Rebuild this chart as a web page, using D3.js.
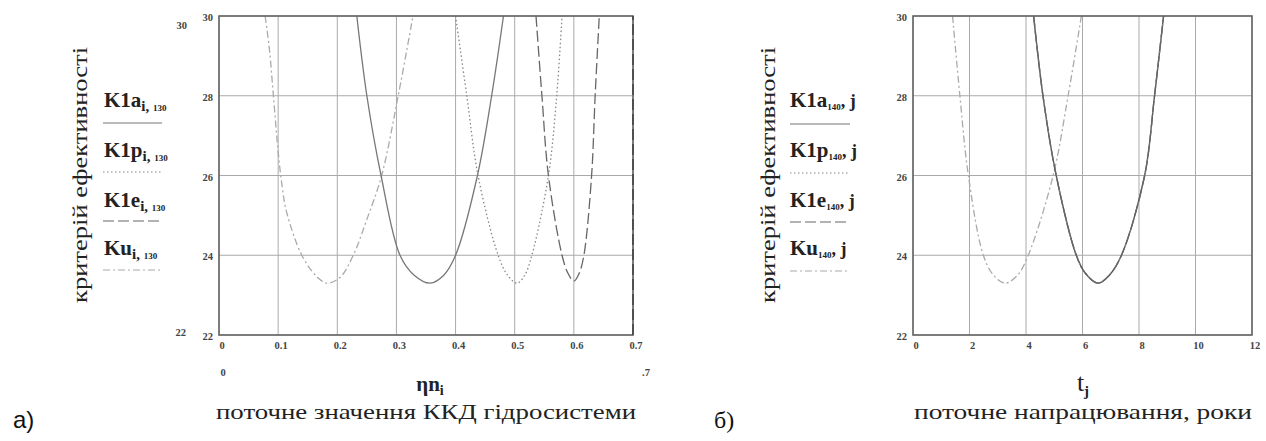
<!DOCTYPE html>
<html>
<head>
<meta charset="utf-8">
<script src="https://cdn.jsdelivr.net/npm/d3@7"></script>
<style>
  body { margin: 0; background: #fff; }
  svg { display: block; }
  text { font-family: "Liberation Serif", "DejaVu Serif", "Times New Roman", serif; }
  .tick-lbl { font-size: 10.5px; font-weight: bold; fill: #444; }
  .ser { fill: #222; }
</style>
</head>
<body>
<svg width="1266" height="441"></svg>
<script>
// ---- data ----
// panel a) : x = current efficiency of the hydraulic system
var etaTicks = [0, 0.1, 0.2, 0.3, 0.4, 0.5, 0.6, 0.7];
var kTicks = [22, 24, 26, 28, 30];

var etaK1a = [0.233, 0.25, 0.274, 0.306, 0.33, 0.357, 0.38, 0.40, 0.437, 0.461, 0.481];
var valK1a = [30, 28, 26, 24, 23.5, 23.3, 23.5, 24, 26, 28, 30];

var etaK1p = [0.40, 0.419, 0.438, 0.472, 0.488, 0.504, 0.517, 0.529, 0.557, 0.571, 0.58];
var valK1p = [30, 28, 26, 24, 23.5, 23.3, 23.5, 24, 26, 28, 30];

var etaK1e = [0.536, 0.546, 0.557, 0.58, 0.59, 0.60, 0.609, 0.617, 0.63, 0.636, 0.643];
var valK1e = [30, 28, 26, 24, 23.55, 23.35, 23.55, 24, 26, 28, 30];

var etaKu = [0.078, 0.085, 0.092, 0.1, 0.107, 0.114, 0.14, 0.165, 0.182, 0.205, 0.227, 0.25, 0.275, 0.303, 0.328];
var valKu = [30, 29.2, 28, 26.6, 25.7, 25.1, 24, 23.47, 23.3, 23.45, 24, 24.9, 26, 28, 30];

// panel б) : x = operating time, years
var tTicks = [0, 2, 4, 6, 8, 10, 12];

var tK1 = [4.27, 4.6, 5.07, 5.78, 6.1, 6.55, 6.95, 7.38, 8.2, 8.55, 8.87];
var valK1 = [30, 28, 26, 24, 23.55, 23.3, 23.5, 24, 26, 28, 30];

var tKu = [1.4, 1.66, 1.96, 2.49, 2.85, 3.26, 3.7, 4.08, 4.96, 5.49, 5.96];
var valKuT = [30, 28, 26, 24, 23.5, 23.3, 23.5, 24, 26, 28, 30];

var yTitle = "критерій  ефективності";

var svg = d3.select("svg");

function zip(xs, ys) {
  return xs.map(function(v, i) { return { x: v, y: ys[i] }; });
}

var styles = {
  a: { stroke: "#777", dash: null, w: 1.3 },
  p: { stroke: "#888", dash: "1.5,2.5", w: 1.3 },
  e: { stroke: "#666", dash: "11,4", w: 1.3 },
  u: { stroke: "#aaa", dash: "7,3,2,3", w: 1.3 }
};

function panel(id, xDomain, xRange, xt, series) {
  var x = d3.scaleLinear().domain(xDomain).range(xRange),
    y = d3.scaleLinear().domain([22, 30]).range([335, 16]);

  var g = svg.append("g");

  g.append("clipPath").attr("id", "clip" + id)
    .append("rect")
    .attr("x", xRange[0]).attr("y", 16)
    .attr("width", xRange[1] - xRange[0]).attr("height", 319);

  // grid
  g.selectAll("line.vg").data(xt).enter().append("line")
    .attr("x1", d => x(d)).attr("x2", d => x(d))
    .attr("y1", y(22)).attr("y2", y(30))
    .attr("stroke", "#aaa").attr("stroke-width", 1);
  g.selectAll("line.hg").data(kTicks).enter().append("line")
    .attr("x1", xRange[0]).attr("x2", xRange[1])
    .attr("y1", d => y(d)).attr("y2", d => y(d))
    .attr("stroke", "#aaa").attr("stroke-width", 1);

  var line = d3.line()
    .curve(d3.curveCatmullRom)
    .x(function(d) { return x(d.x); })
    .y(function(d) { return y(d.y); });

  g.append("g").attr("clip-path", "url(#clip" + id + ")")
    .selectAll("path").data(series).enter().append("path")
    .attr("d", d => line(d.pts))
    .attr("fill", "none")
    .attr("stroke", d => d.st.stroke)
    .attr("stroke-width", d => d.st.w)
    .attr("stroke-dasharray", d => d.st.dash);

  // frame
  g.append("rect")
    .attr("x", xRange[0]).attr("y", 16)
    .attr("width", xRange[1] - xRange[0]).attr("height", 319)
    .attr("fill", "none").attr("stroke", "#666").attr("stroke-width", 1.6);

  g.selectAll("text.xl").data(xt).enter().append("text")
    .attr("class", "tick-lbl")
    .attr("x", d => x(d) + 3).attr("y", 349)
    .attr("text-anchor", "middle")
    .text(d => d);
  g.selectAll("text.yl").data(kTicks).enter().append("text")
    .attr("class", "tick-lbl")
    .attr("x", xRange[0] - 6).attr("y", d => y(d) + 5)
    .attr("text-anchor", "end")
    .text(d => d);

  return { x: x, y: y, g: g };
}

var pa = panel("a", [0, 0.7], [219, 633], etaTicks, [
  { pts: zip(etaKu, valKu), st: styles.u },
  { pts: zip(etaK1a, valK1a), st: styles.a },
  { pts: zip(etaK1p, valK1p), st: styles.p },
  { pts: zip(etaK1e, valK1e), st: styles.e }
]);

// dashed right edge of panel a)
pa.g.append("line")
  .attr("x1", pa.x(0.7)).attr("x2", pa.x(0.7))
  .attr("y1", pa.y(22)).attr("y2", pa.y(30))
  .attr("stroke", "#333").attr("stroke-width", 1.2)
  .attr("stroke-dasharray", "11,4");

// extra range labels of panel a)
pa.g.append("text").attr("class", "tick-lbl").attr("x", 187).attr("y", 29).attr("text-anchor", "end").text(kTicks[4]);
pa.g.append("text").attr("class", "tick-lbl").attr("x", 186).attr("y", 336).attr("text-anchor", "end").text(kTicks[0]);
pa.g.append("text").attr("class", "tick-lbl").attr("x", pa.x(0) + 4).attr("y", 376).attr("text-anchor", "middle").text("0");
pa.g.append("text").attr("class", "tick-lbl").attr("x", pa.x(0.7) + 13).attr("y", 376).attr("text-anchor", "middle").text(".7");

var pb = panel("b", [0, 12], [913, 1252], tTicks, [
  { pts: zip(tKu, valKuT), st: styles.u },
  { pts: zip(tK1, valK1), st: { stroke: "#555", dash: null, w: 1.4 } },
  { pts: zip(tK1, valK1), st: styles.p },
  { pts: zip(tK1, valK1), st: styles.e }
]);

// y titles
[80, 768].forEach(function(cx) {
  svg.append("text").attr("class", "ser")
    .attr("transform", "translate(" + (cx + 7) + ",175) rotate(-90)")
    .attr("text-anchor", "middle")
    .attr("textLength", 256).attr("lengthAdjust", "spacingAndGlyphs")
    .style("font-size", "21px")
    .text(yTitle);
});

// legends
var legA = [
  { n: "K1a", st: styles.a }, { n: "K1p", st: styles.p },
  { n: "K1e", st: styles.e }, { n: "Ku", st: styles.u }
];
var legBase = [107, 157, 207, 255];
var legLine = [123, 172, 221, 270];

legA.forEach(function(d, i) {
  var t = svg.append("text").attr("class", "ser")
    .attr("x", 104).attr("y", legBase[i]);
  t.append("tspan").style("font-size", "21px").style("font-weight", "bold").text(d.n);
  t.append("tspan").attr("dy", 4).style("font-size", "15px").style("font-weight", "bold").text("i");
  t.append("tspan").style("font-size", "15px").style("font-weight", "bold").text(", ");
  t.append("tspan").style("font-size", "9px").style("font-weight", "bold").text("130");
  svg.append("line")
    .attr("x1", 103).attr("x2", 162).attr("y1", legLine[i]).attr("y2", legLine[i])
    .attr("stroke", d.st.stroke).attr("stroke-width", 1.2)
    .attr("stroke-dasharray", d.st.dash);

  var t2 = svg.append("text").attr("class", "ser")
    .attr("x", 790).attr("y", legBase[i]);
  t2.append("tspan").style("font-size", "21px").style("font-weight", "bold").text(d.n);
  t2.append("tspan").attr("dy", 3).style("font-size", "9px").style("font-weight", "bold").text("140");
  t2.append("tspan").attr("dy", -3).style("font-size", "18px").style("font-weight", "bold").text(", j");
  svg.append("line")
    .attr("x1", 790).attr("x2", 850).attr("y1", legLine[i] + 1).attr("y2", legLine[i] + 1)
    .attr("stroke", d.st.stroke).attr("stroke-width", 1.2)
    .attr("stroke-dasharray", d.st.dash);
});

// x titles
var xa = svg.append("text").attr("class", "ser")
  .attr("x", 430).attr("y", 391).attr("text-anchor", "middle")
  .style("font-size", "21px").style("font-weight", "bold");
xa.append("tspan").text("ηn");
xa.append("tspan").attr("dy", 4).style("font-size", "14px").text("i");

var xb = svg.append("text").attr("class", "ser")
  .attr("x", 1083).attr("y", 391).attr("text-anchor", "middle")
  .style("font-size", "26px");
xb.append("tspan").text("t");
xb.append("tspan").attr("dy", 5).style("font-size", "15px").style("font-weight", "bold").text("j");

svg.append("text").attr("class", "ser")
  .attr("x", 426).attr("y", 419).attr("text-anchor", "middle")
  .attr("textLength", 420).attr("lengthAdjust", "spacingAndGlyphs")
  .style("font-size", "21px")
  .text("поточне  значення ККД  гідросистеми");

svg.append("text").attr("class", "ser")
  .attr("x", 1083).attr("y", 419).attr("text-anchor", "middle")
  .attr("textLength", 338).attr("lengthAdjust", "spacingAndGlyphs")
  .style("font-size", "21px")
  .text("поточне  напрацювання,  роки");

// panel captions
svg.append("text")
  .attr("x", 13).attr("y", 428)
  .style("font", "24px 'Liberation Sans', Arial, sans-serif").style("fill", "#111")
  .text("a)");
svg.append("text").attr("class", "ser")
  .attr("x", 714).attr("y", 428)
  .style("font-size", "24px").style("fill", "#111")
  .text("б)");
</script>
</body>
</html>
